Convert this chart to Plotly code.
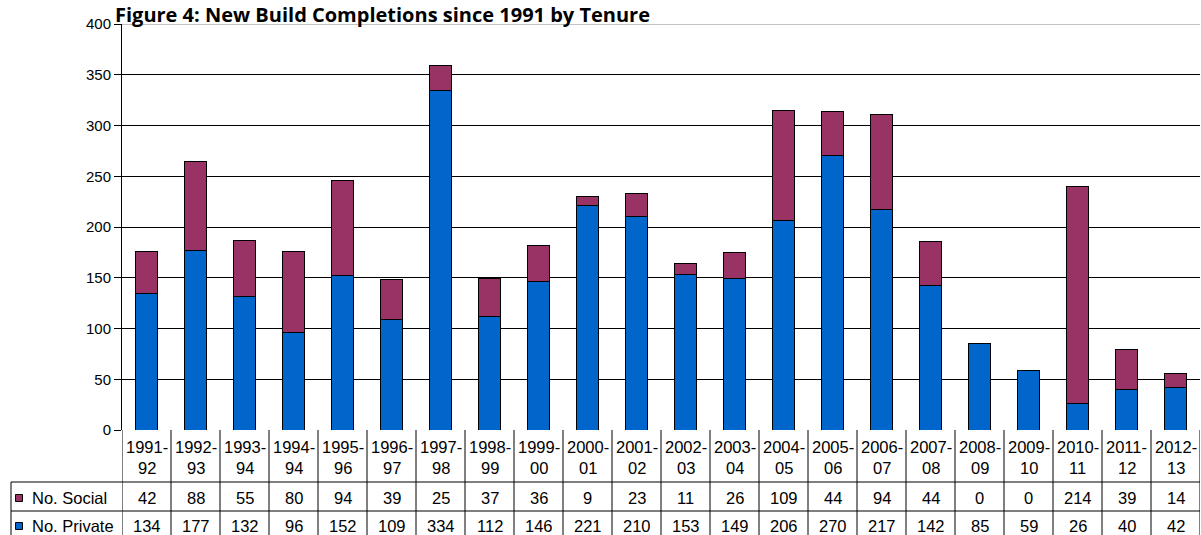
import plotly.graph_objects as go

# data
years = ["1991-92", "1992-93", "1993-94", "1994-94", "1995-96", "1996-97", "1997-98",
         "1998-99", "1999-00", "2000-01", "2001-02", "2002-03", "2003-04", "2004-05",
         "2005-06", "2006-07", "2007-08", "2008-09", "2009-10", "2010-11", "2011-12", "2012-13"]
social = [42, 88, 55, 80, 94, 39, 25, 37, 36, 9, 23, 11, 26, 109, 44, 94, 44, 0, 0, 214, 39, 14]
private = [134, 177, 132, 96, 152, 109, 334, 112, 146, 221, 210, 153, 149, 206, 270, 217,
           142, 85, 59, 26, 40, 42]
ytick_vals = [0, 50, 100, 150, 200, 250, 300, 350, 400]

W, H = 1201, 535
PURPLE = "#993366"
BLUE = "#0066CC"
FONT = "Liberation Sans, Arial, sans-serif"
TSIZE = 16.5


def py(p):
    # pixel row -> paper y
    return 1 - p / H


x = list(range(len(years)))

fig = go.Figure()
fig.add_trace(go.Bar(x=x, y=private, name="No. Private", marker_color=BLUE,
                     marker_line=dict(color="black", width=1)))
fig.add_trace(go.Bar(x=x, y=social, name="No. Social", marker_color=PURPLE,
                     marker_line=dict(color="black", width=1)))

shapes = []
ann = []

# grey top border of the plot (the 400 line)
shapes.append(dict(type="line", xref="paper", yref="y", x0=122 / W, x1=1200 / W,
                   y0=400, y1=400, line=dict(color="#888888", width=1)))

# table grid
n = len(years)
for k in range(n + 1):
    shapes.append(dict(type="line", xref="x", yref="paper", x0=k - 0.5, x1=k - 0.5,
                       y0=0, y1=py(430), line=dict(color="black", width=1)))
for row in [482, 511]:
    shapes.append(dict(type="line", xref="paper", yref="paper", x0=11 / W, x1=1200 / W,
                       y0=py(row), y1=py(row), line=dict(color="black", width=1)))
shapes.append(dict(type="line", xref="paper", yref="paper", x0=11 / W, x1=11 / W,
                   y0=0, y1=py(482), line=dict(color="black", width=1)))

# legend keys in the table
for row, col in [(498, PURPLE), (526, BLUE)]:
    shapes.append(dict(type="rect", xref="paper", yref="paper", x0=15.5 / W, x1=22.5 / W,
                       y0=py(row + 3.5), y1=py(row - 3.5), fillcolor=col,
                       line=dict(color="black", width=1)))
ann.append(dict(text="No. Social", x=30 / W, y=py(498), xref="paper", yref="paper",
                xanchor="left", yanchor="middle", showarrow=False, font=dict(size=TSIZE)))
ann.append(dict(text="No. Private", x=30 / W, y=py(526), xref="paper", yref="paper",
                xanchor="left", yanchor="middle", showarrow=False, font=dict(size=TSIZE)))

for i, yr in enumerate(years):
    a, b = yr.split("-")
    for txt, row in [(a + "-", 446.5), (b, 467.5), (str(social[i]), 498), (str(private[i]), 526)]:
        ann.append(dict(text=txt, x=i, y=py(row), xref="x", yref="paper",
                        xanchor="center", yanchor="middle", showarrow=False,
                        font=dict(size=TSIZE)))

# title at the very top, kept clear of the 400 label
ann.append(dict(text="<b>Figure 4: New Build Completions since 1991 by Tenure</b>",
                x=114 / W, y=1, xref="paper", yref="paper", xanchor="left",
                yanchor="top", showarrow=False, borderpad=0,
                font=dict(family="Open Sans, Lato, sans-serif", size=20, color="black")))

fig.update_layout(
    width=W, height=H,
    margin=dict(l=0, r=0, t=0, b=0),
    barmode="stack", bargap=0.57,
    plot_bgcolor="white", paper_bgcolor="white",
    showlegend=False,
    font=dict(family=FONT, size=15, color="black"),
    shapes=shapes, annotations=ann,
    xaxis=dict(domain=[122 / W, 1200 / W], range=[-0.5, n - 0.5], showticklabels=False,
               showgrid=False, zeroline=False, showline=False, ticks="", automargin=False),
    yaxis=dict(domain=[py(430), py(24)], range=[0, 400], tickvals=ytick_vals,
               showgrid=True, gridcolor="black", gridwidth=1, zeroline=False,
               showline=True, linecolor="black", linewidth=1, ticks="outside",
               ticklen=7, tickcolor="black", tickfont=dict(size=15), automargin=False),
)

# the page's default 8px body margin would push the figure off the window
fig.write_html("out.html", config={"displayModeBar": False},
               post_script="document.body.style.margin='0';")
